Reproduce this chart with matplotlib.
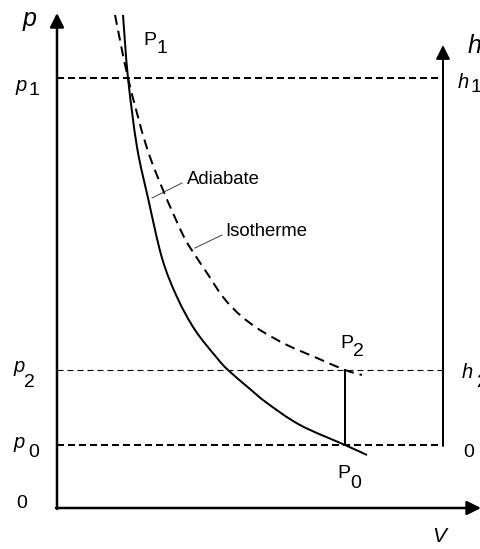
import matplotlib
matplotlib.use("Agg")
import matplotlib.pyplot as plt
from matplotlib.path import Path
from matplotlib.patches import PathPatch

plt.rcParams['font.family'] = ['Liberation Sans', 'DejaVu Sans']
plt.rcParams['lines.scale_dashes'] = False

# ---- data ----
V_adiabate = [66, 71, 80, 91, 105, 120, 138, 160, 171, 193, 210, 243, 288, 310]
p_adiabate = [493, 430, 361, 310, 250, 211, 178, 150, 138, 119, 105, 83, 63, 53]

V_isotherme = [58, 71, 89, 106, 126, 136, 150, 166, 183, 203, 230, 260, 288, 305]
p_isotherme = [493, 430, 363, 318, 273, 256, 235, 211, 193, 178, 163, 150, 138, 133]

p_levels = {"p1": 430, "p2": 138, "p0": 63}
V_state1 = 71
V_state2 = 288
V_h_axis = 386
V_max = 424
p_max = 495
h_top = 463

# ---- figure ----
W, H, DPI = 481, 549, 100
fig = plt.figure(figsize=(W / DPI, H / DPI), dpi=DPI)
ax = fig.add_axes([0, 0, 1, 1])
ax.set_xlim(-57, W - 57)
ax.set_ylim(-(H - 508), 508)
ax.axis("off")

PX = 0.72  # points per pixel


def smooth_path(xs, ys):
    """Catmull-Rom curve through the given points, as cubic Bezier segments."""
    pts = list(zip(xs, ys))
    n = len(pts)
    verts = [pts[0]]
    codes = [Path.MOVETO]
    for i in range(n - 1):
        p0 = pts[i - 1] if i > 0 else pts[i]
        p1 = pts[i]
        p2 = pts[i + 1]
        p3 = pts[i + 2] if i + 2 < n else pts[i + 1]
        c1 = (p1[0] + (p2[0] - p0[0]) / 6, p1[1] + (p2[1] - p0[1]) / 6)
        c2 = (p2[0] - (p3[0] - p1[0]) / 6, p2[1] - (p3[1] - p1[1]) / 6)
        verts += [c1, c2, p2]
        codes += [Path.CURVE4] * 3
    return Path(verts, codes)


# axes arrows
arrow_kw = dict(arrowstyle="-|>,head_length=0.4,head_width=0.2", lw=2.5 * PX,
                color="black", shrinkA=0, shrinkB=0, mutation_scale=21)
ax.annotate("", xy=(0, p_max), xytext=(0, -1), arrowprops=arrow_kw)
ax.annotate("", xy=(V_max, 0), xytext=(-1, 0), arrowprops=arrow_kw)
ax.annotate("", xy=(V_h_axis, h_top), xytext=(V_h_axis, p_levels["p0"] - 1),
            arrowprops=dict(arrow_kw, lw=2.0 * PX))

# level lines
ax.plot([0, V_h_axis], [p_levels["p1"]] * 2, color="black", lw=2 * PX,
        linestyle=(0, (7 * PX, 4 * PX)))
ax.plot([0, V_h_axis], [p_levels["p0"]] * 2, color="black", lw=2 * PX,
        linestyle=(0, (7 * PX, 4 * PX)))
ax.plot([0, V_h_axis], [p_levels["p2"]] * 2, color="black", lw=1.1 * PX,
        linestyle=(0, (6 * PX, 4 * PX)))

# curves
ax.add_patch(PathPatch(smooth_path(V_adiabate, p_adiabate), fill=False,
                       edgecolor="black", lw=2 * PX))
ax.add_patch(PathPatch(smooth_path(V_isotherme, p_isotherme), fill=False,
                       edgecolor="black", lw=2 * PX,
                       linestyle=(0, (10 * PX, 6 * PX))))
ax.plot([V_state2, V_state2], [p_levels["p0"], p_levels["p2"]], color="black", lw=2 * PX)

# leader lines
ax.plot([95, 125], [310, 325], color="#333333", lw=0.9 * PX)
ax.plot([138, 165], [260, 273], color="#333333", lw=0.9 * PX)


def lab(xy, dx, dy, s, size=14, style="normal"):
    ax.annotate(s, xy=xy, xytext=(dx, dy), textcoords="offset pixels",
                ha="left", va="baseline", fontsize=size, fontstyle=style)


# left labels
lab((0, p_max), -34, -13, "p", 18, "italic")
lab((0, p_levels["p1"]), -41, -13, "p", 14.5, "italic")
lab((0, p_levels["p1"]), -28, -17, "1", 14)
lab((0, p_levels["p2"]), -43, -2, "p", 14.5, "italic")
lab((0, p_levels["p2"]), -33, -17, "2", 14)
lab((0, p_levels["p0"]), -43, -3, "p", 14.5, "italic")
lab((0, p_levels["p0"]), -29, -12, "0", 14)
lab((0, 0), -41, 0, "0", 14)
lab((V_max, 0), -49, -34, "V", 15, "italic")

# state labels
lab((V_state1, p_levels["p1"]), 15, 33, "P", 14)
lab((V_state1, p_levels["p1"]), 29, 25, "1", 14)
lab((V_state2, p_levels["p2"]), -5, 22, "P", 14)
lab((V_state2, p_levels["p2"]), 8, 14, "2", 14)
lab((V_state2, p_levels["p0"]), -8, -33, "P", 14)
lab((V_state2, p_levels["p0"]), 5, -43, "0", 14)

# right axis labels
lab((V_h_axis, h_top), 25, -8, "h", 18, "italic")
lab((V_h_axis, p_levels["p1"]), 15, -10, "h", 14.5, "italic")
lab((V_h_axis, p_levels["p1"]), 28, -14, "1", 14)
lab((V_h_axis, p_levels["p2"]), 19, -8, "h", 14.5, "italic")
lab((V_h_axis, p_levels["p2"]), 34, -17, "2", 14)
lab((V_h_axis, p_levels["p0"]), 20, -12, "0", 14)

# curve names
lab((125, 325), 5, -1, "Adiabate", 13.3)
lab((165, 273), 3, -1, "Isotherme", 13.3)

fig.savefig("out.png", dpi=DPI)
